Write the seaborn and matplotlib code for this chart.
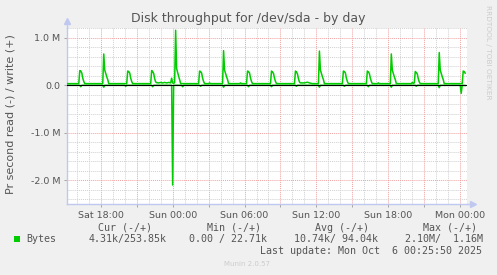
import matplotlib
matplotlib.use("Agg")
import matplotlib.pyplot as plt
import matplotlib.dates as mdates
from matplotlib.ticker import MultipleLocator, FuncFormatter
from matplotlib.patches import Rectangle
import seaborn as sns
import pandas as pd

# ---------------- data ----------------
title = "Disk throughput for /dev/sda - by day"
ylabel = "Pr second read (-) / write (+)"
series_name = "Bytes"

# write (+) samples, day-of-month + time (Oct 2025), MB/s
write_times = [
    "04 15:10",
    "04 16:10", "04 16:15", "04 16:20", "04 16:25", "04 16:30", "04 16:35", "04 16:40",
    "04 18:10", "04 18:15", "04 18:20", "04 18:25", "04 18:30", "04 18:35", "04 18:40",
    "04 20:10", "04 20:15", "04 20:20", "04 20:25", "04 20:30", "04 20:35", "04 20:40",
    "04 22:10", "04 22:15", "04 22:20", "04 22:25", "04 22:30", "04 22:35", "04 22:40",
    "04 22:50", "04 23:00", "04 23:10", "04 23:20", "04 23:30", "04 23:40",
    "04 23:50", "04 23:55",
    "05 00:00", "05 00:05", "05 00:10", "05 00:15", "05 00:20", "05 00:25",
    "05 00:30", "05 00:35", "05 00:40",
    "05 02:10", "05 02:15", "05 02:20", "05 02:25", "05 02:30", "05 02:35", "05 02:40",
    "05 03:00", "05 03:05", "05 03:10",
    "05 04:10", "05 04:15", "05 04:20", "05 04:25", "05 04:30", "05 04:35", "05 04:40",
    "05 05:35", "05 05:40", "05 05:45",
    "05 06:10", "05 06:15", "05 06:20", "05 06:25", "05 06:30", "05 06:35", "05 06:40",
    "05 08:10", "05 08:15", "05 08:20", "05 08:25", "05 08:30", "05 08:35", "05 08:40",
    "05 10:10", "05 10:15", "05 10:20", "05 10:25", "05 10:30", "05 10:35", "05 10:40",
    "05 11:00", "05 11:15", "05 11:25", "05 11:40",
    "05 12:10", "05 12:15", "05 12:20", "05 12:25", "05 12:30", "05 12:35", "05 12:40",
    "05 14:10", "05 14:15", "05 14:20", "05 14:25", "05 14:30", "05 14:35", "05 14:40",
    "05 16:10", "05 16:15", "05 16:20", "05 16:25", "05 16:30", "05 16:35", "05 16:40",
    "05 17:05", "05 17:10", "05 17:15",
    "05 18:10", "05 18:15", "05 18:20", "05 18:25", "05 18:30", "05 18:35", "05 18:40",
    "05 19:55", "05 20:00", "05 20:05", "05 20:10",
    "05 20:15", "05 20:20", "05 20:25", "05 20:30", "05 20:35", "05 20:40",
    "05 22:10", "05 22:15", "05 22:20", "05 22:25", "05 22:30", "05 22:35", "05 22:40",
    "06 00:10", "06 00:15", "06 00:20", "06 00:25",
]
write_mb = [
    0.035,
    0.035, 0.31, 0.30, 0.26, 0.15, 0.08, 0.035,
    0.035, 0.66, 0.32, 0.25, 0.18, 0.12, 0.035,
    0.035, 0.30, 0.29, 0.26, 0.15, 0.08, 0.035,
    0.035, 0.31, 0.29, 0.25, 0.14, 0.07, 0.055,
    0.05, 0.06, 0.05, 0.06, 0.05, 0.06,
    0.05, 0.15,
    0.05, 0.04, 0.06, 1.16, 0.35, 0.27, 0.19, 0.12, 0.035,
    0.035, 0.30, 0.29, 0.26, 0.15, 0.08, 0.035,
    0.035, 0.05, 0.035,
    0.035, 0.73, 0.32, 0.25, 0.18, 0.12, 0.035,
    0.035, 0.05, 0.035,
    0.035, 0.30, 0.29, 0.26, 0.15, 0.08, 0.035,
    0.035, 0.30, 0.28, 0.25, 0.15, 0.08, 0.035,
    0.035, 0.30, 0.28, 0.24, 0.14, 0.07, 0.05,
    0.05, 0.065, 0.05, 0.035,
    0.035, 0.72, 0.32, 0.25, 0.18, 0.12, 0.035,
    0.035, 0.30, 0.29, 0.26, 0.15, 0.08, 0.035,
    0.035, 0.30, 0.28, 0.25, 0.15, 0.08, 0.035,
    0.035, 0.05, 0.035,
    0.035, 0.66, 0.32, 0.25, 0.18, 0.12, 0.035,
    0.035, 0.06, 0.04, 0.05,
    0.29, 0.27, 0.24, 0.14, 0.07, 0.035,
    0.035, 0.69, 0.32, 0.25, 0.18, 0.12, 0.035,
    0.035, 0.30, 0.29, 0.254,
]

# read (-) samples, MB/s (drawn negative)
read_times = [
    "04 15:10",
    "04 16:15", "04 16:20", "04 16:25",
    "04 18:10", "04 18:15", "04 18:20",
    "04 20:00", "04 20:05", "04 20:10",
    "04 22:15", "04 22:20", "04 22:25",
    "04 23:55", "05 00:00", "05 00:05",
    "05 00:45", "05 00:50", "05 00:55",
    "05 02:15", "05 02:20", "05 02:25",
    "05 04:10", "05 04:15", "05 04:20",
    "05 06:15", "05 06:20", "05 06:25",
    "05 08:10", "05 08:15", "05 08:20",
    "05 10:15", "05 10:20", "05 10:25",
    "05 12:10", "05 12:15", "05 12:20",
    "05 14:15", "05 14:20", "05 14:25",
    "05 16:15", "05 16:20", "05 16:25",
    "05 18:10", "05 18:15", "05 18:20",
    "05 20:15", "05 20:20", "05 20:25",
    "05 22:10", "05 22:15", "05 22:20",
    "06 00:00", "06 00:05", "06 00:10", "06 00:25",
]
read_mb = [
    0.0,
    0.0, 0.03, 0.0,
    0.0, 0.04, 0.0,
    0.0, 0.02, 0.0,
    0.0, 0.03, 0.0,
    0.0, 2.10, 0.0,
    0.0, 0.03, 0.0,
    0.0, 0.02, 0.0,
    0.0, 0.04, 0.0,
    0.0, 0.03, 0.0,
    0.0, 0.03, 0.0,
    0.0, 0.02, 0.0,
    0.0, 0.04, 0.0,
    0.0, 0.02, 0.0,
    0.0, 0.03, 0.0,
    0.0, 0.04, 0.0,
    0.0, 0.02, 0.0,
    0.0, 0.05, 0.0,
    0.0, 0.17, 0.0, 0.0043,
]

legend_headers = ["Cur (-/+)", "Min (-/+)", "Avg (-/+)", "Max (-/+)"]
legend_values = ["4.31k/253.85k", "0.00 / 22.71k", "10.74k/ 94.04k", "2.10M/  1.16M"]
last_update = "Last update: Mon Oct  6 00:25:50 2025"
footer = "Munin 2.0.57"
side_note = "RRDTOOL / TOBI OETIKER"

# ---------------- build frames ----------------
def to_ts(lst):
    return pd.to_datetime(["2025-10-" + s for s in lst])

df_w = pd.DataFrame({"time": to_ts(write_times), "bytes": [v * 1e6 for v in write_mb]})
df_r = pd.DataFrame({"time": to_ts(read_times), "bytes": [-v * 1e6 for v in read_mb]})

# ---------------- figure ----------------
W, H = 497, 275
BG = "#F0F0F0"
GREEN = "#00CC00"
TXT = "#555555"

fig = plt.figure(figsize=(W / 100, H / 100), dpi=100, facecolor=BG)
ax = fig.add_axes([67 / W, (H - 204) / H, 400 / W, (204 - 27.7) / H])
ax.set_facecolor("white")

sns.lineplot(data=df_r, x="time", y="bytes", ax=ax, color=GREEN, lw=1.1,
             estimator=None, sort=False, zorder=3)
ax.axhline(0, color="black", lw=0.8, zorder=4)
sns.lineplot(data=df_w, x="time", y="bytes", ax=ax, color=GREEN, lw=1.1,
             estimator=None, sort=False, zorder=5)

ax.set_xlim(pd.Timestamp("2025-10-04 15:11"), pd.Timestamp("2025-10-06 00:34"))
ax.set_ylim(-2.5e6, 1.213e6)

# grids
ax.xaxis.set_major_locator(mdates.HourLocator(byhour=range(0, 24, 3)))
ax.xaxis.set_minor_locator(mdates.HourLocator())


def xfmt(x, pos):
    d = mdates.num2date(x)
    return d.strftime("%a %H:%M") if d.hour % 6 == 0 else ""


ax.xaxis.set_major_formatter(FuncFormatter(xfmt))
ax.yaxis.set_major_locator(MultipleLocator(1e6))
ax.yaxis.set_minor_locator(MultipleLocator(2e5))


def yfmt(v, pos):
    if abs(v) < 1:
        return "0.0"
    return f"{v / 1e6:.1f} M"


ax.yaxis.set_major_formatter(FuncFormatter(yfmt))

dot = (0, (1.0, 1.0))
ax.grid(which="minor", color="#D0D0D0", lw=0.7, ls=dot, zorder=0)
ax.grid(which="major", color="#F2A0A0", lw=0.7, ls=dot, zorder=1)
ax.set_axisbelow(True)

for s in ["top", "right"]:
    ax.spines[s].set_visible(False)
AX = "#C0C8F0"
for s in ["left", "bottom"]:
    ax.spines[s].set_color(AX)
    ax.spines[s].set_linewidth(1.0)
ax.plot([1.0, 1.012], [0, 0], color=AX, lw=1.0, transform=ax.transAxes, clip_on=False)
ax.plot([0, 0], [1.0, 1.03], color=AX, lw=1.0, transform=ax.transAxes, clip_on=False)
ax.plot(1.015, 0, marker=">", ms=5, color=AX, transform=ax.transAxes, clip_on=False)
ax.plot(0, 1.04, marker="^", ms=5, color=AX, transform=ax.transAxes, clip_on=False)

ax.tick_params(axis="both", which="major", length=2, width=0.6, color="#999999",
               labelsize=6.8, labelcolor=TXT, pad=3)
ax.tick_params(axis="both", which="minor", length=0)
ax.set_xlabel("")
ax.set_ylabel("")


def px(x, y):
    return x / W, 1 - y / H


fig.text(*px(248.7, 18.5), title, ha="center", va="center", fontsize=9.0, color=TXT)
fig.text(*px(11, 114), ylabel, ha="center", va="center", rotation=90, fontsize=8.0, color=TXT)
fig.text(*px(488, 52), side_note, ha="center", va="center", rotation=270, fontsize=5.3,
         color="#CCCCCC")

mono = dict(family="DejaVu Sans Mono", fontsize=7.2, color=TXT)
header_cx = [125, 233.7, 341.7, 449.7]
for h, cx in zip(legend_headers, header_cx):
    fig.text(*px(cx, 227.7), h, ha="center", va="center", **mono)
value_right = [167, 267.3, 378, 483]
for v, rx in zip(legend_values, value_right):
    fig.text(*px(rx, 239.3), v, ha="right", va="center", **mono)
fig.text(*px(26.7, 239.3), series_name, ha="left", va="center", **mono)
fig.patches.append(Rectangle(px(14, 242), 6 / W, 6 / H, transform=fig.transFigure,
                             facecolor=GREEN, edgecolor="none"))
fig.text(*px(482, 251), last_update, ha="right", va="center", **mono)
fig.text(*px(247.5, 264), footer, ha="center", va="center", fontsize=5.0, color="#CCCCCC")

fig.savefig("out.png", dpi=100, facecolor=BG)
